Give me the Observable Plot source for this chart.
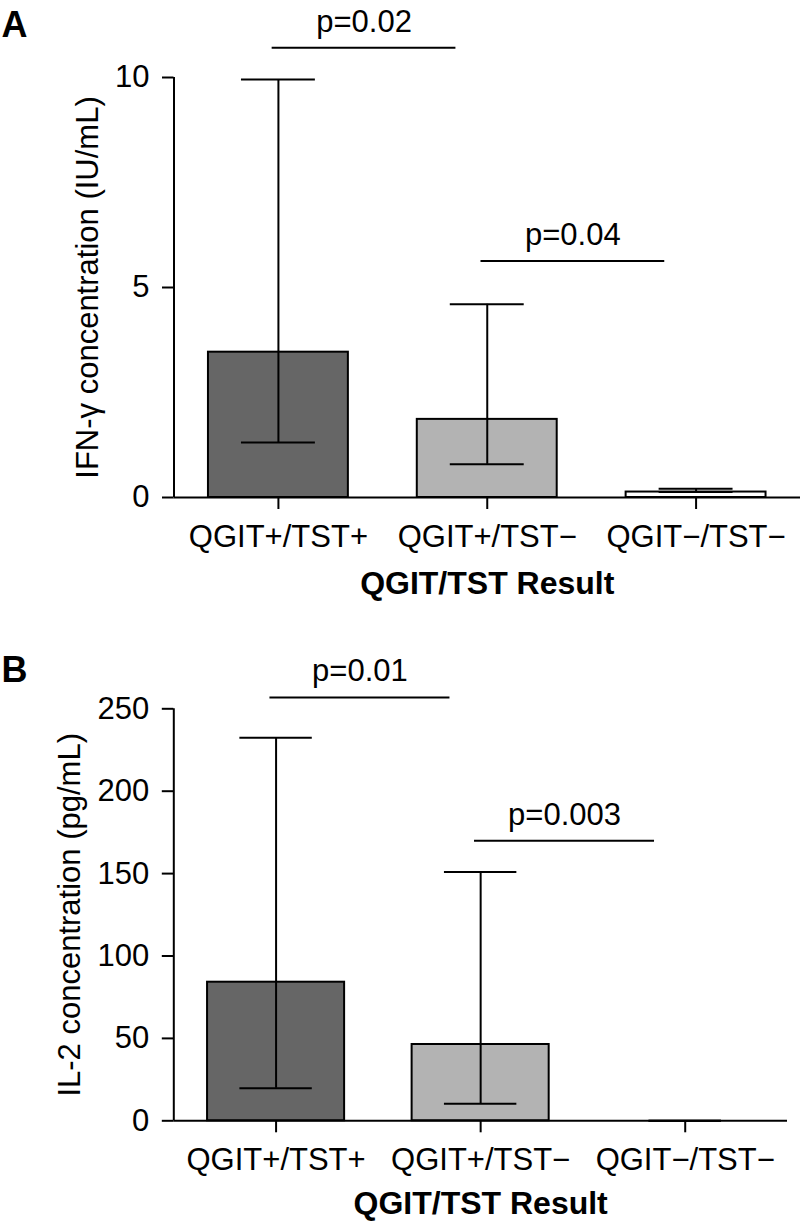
<!DOCTYPE html>
<html>
<head>
<meta charset="utf-8">
<script src="https://cdn.jsdelivr.net/npm/d3@7"></script>
<script src="https://cdn.jsdelivr.net/npm/@observablehq/plot@0.6"></script>
<style>
  html, body { margin: 0; padding: 0; background: #fff; }
  #chart svg { display: block; }
</style>
</head>
<body>
<div id="chart"></div>
<script>
// ---- Data ----
const categories = ["QGIT+/TST+", "QGIT+/TST\u2212", "QGIT\u2212/TST\u2212"];
const barFills = ["#666666", "#b3b3b3", "#ffffff"];

// Panel A: IFN-γ (IU/mL) — median with interquartile range
const ifnMedian = [3.46, 1.86, 0.13];
const ifnLower  = [1.31, 0.79, 0.13];
const ifnUpper  = [9.95, 4.60, 0.21];
const ifnTicks  = [0, 5, 10];
const ifnPLabels = ["p=0.02", "p=0.04"];
const ifnPFrom   = [0, 1];
const ifnPTo     = [1, 2];
const ifnPLevel  = [10.71, 5.63];

// Panel B: IL-2 (pg/mL)
const il2Median = [84.1, 46.3, 0];
const il2Lower  = [19.8, 10.3, 0];
const il2Upper  = [232.4, 150.9, 0];
const il2Ticks  = [0, 50, 100, 150, 200, 250];
const il2PLabels = ["p=0.01", "p=0.003"];
const il2PFrom   = [0, 1];
const il2PTo     = [1, 2];
const il2PLevel  = [256.9, 170];

const xTitle = "QGIT/TST Result";

function rows(med, lo, hi) {
  return categories.map((c, i) => ({i, cat: c, median: med[i], lower: lo[i], upper: hi[i], fill: barFills[i]}));
}
function comps(labels, from, to, level) {
  return labels.map((l, k) => ({label: l, from: from[k], to: to[k], y: level[k]}));
}

const FONT = "'Liberation Sans', Arial, Helvetica, sans-serif";
const HALF_BAR = 0.335, HALF_CAP = 0.177;

function panel({letter, data, comparisons, yDomain, ticks, yLabel, height, marginTop, marginBottom, marginLeft, marginRight, yLabelDx, letterDy, titleDy}) {
  return Plot.plot({
    width: 804, height, marginTop, marginBottom, marginLeft, marginRight,
    style: {fontFamily: FONT, fontSize: "31px", color: "#000", background: "#fff", overflow: "visible"},
    x: {type: "linear", domain: [-0.5, 2.5]},
    y: {type: "linear", domain: yDomain},
    marks: [
      Plot.rect(data, {x1: d => d.i - HALF_BAR, x2: d => d.i + HALF_BAR, y1: 0, y2: "median", fill: "fill", stroke: "#000", strokeWidth: 2}),
      Plot.ruleX(data, {x: "i", y1: "lower", y2: "upper", stroke: "#000", strokeWidth: 2}),
      Plot.ruleY(data, {x1: d => d.i - HALF_CAP, x2: d => d.i + HALF_CAP, y: "upper", stroke: "#000", strokeWidth: 2}),
      Plot.ruleY(data, {x1: d => d.i - HALF_CAP, x2: d => d.i + HALF_CAP, y: "lower", stroke: "#000", strokeWidth: 2}),
      Plot.ruleY([0], {stroke: "#000", strokeWidth: 2}),
      Plot.ruleX([-0.5], {y1: yDomain[0], y2: yDomain[1], stroke: "#000", strokeWidth: 2}),
      Plot.axisY({ticks, tickSize: 11.5, tickPadding: 13, strokeWidth: 2, label: null, fontSize: 31}),
      Plot.axisX({ticks: [0, 1, 2], tickFormat: i => categories[i], tickSize: 12, tickPadding: 15, strokeWidth: 2, label: null, fontSize: 31}),
      Plot.ruleY(comparisons, {x1: d => d.from - 0.03, x2: d => d.to - 0.15, y: "y", stroke: "#000", strokeWidth: 2}),
      Plot.text(comparisons, {x: d => (d.from + d.to) / 2 - 0.09, y: "y", text: "label", dy: -16, lineAnchor: "bottom", fontSize: 31}),
      Plot.text([yLabel], {frameAnchor: "left", rotate: -90, dx: yLabelDx, lineAnchor: "top", textAnchor: "middle", fontSize: 31}),
      Plot.text([xTitle], {frameAnchor: "bottom", dy: titleDy, lineAnchor: "bottom", fontSize: 32, fontWeight: "bold"}),
      Plot.text([letter], {frameAnchor: "top-left", dx: -marginLeft + 1, dy: letterDy, lineAnchor: "bottom", textAnchor: "start", fontSize: 36, fontWeight: "bold"})
    ]
  });
}

const chart = document.getElementById("chart");
chart.appendChild(panel({
  letter: "A",
  data: rows(ifnMedian, ifnLower, ifnUpper),
  comparisons: comps(ifnPLabels, ifnPFrom, ifnPTo, ifnPLevel),
  yDomain: [0, 10], ticks: ifnTicks,
  yLabel: "IFN-\u03b3 concentration (IU/mL)",
  height: 610, marginTop: 77, marginBottom: 113, marginLeft: 173.5, marginRight: 4,
  yLabelDx: -98.5, letterDy: -41, titleDy: 96
}));
chart.appendChild(panel({
  letter: "B",
  data: rows(il2Median, il2Lower, il2Upper),
  comparisons: comps(il2PLabels, il2PFrom, il2PTo, il2PLevel),
  yDomain: [0, 250], ticks: il2Ticks,
  yLabel: "IL-2 concentration (pg/mL)",
  height: 614, marginTop: 98.3, marginBottom: 103.7, marginLeft: 173.3, marginRight: 17,
  yLabelDx: -116.3, letterDy: -27, titleDy: 93
}));
</script>
</body>
</html>
